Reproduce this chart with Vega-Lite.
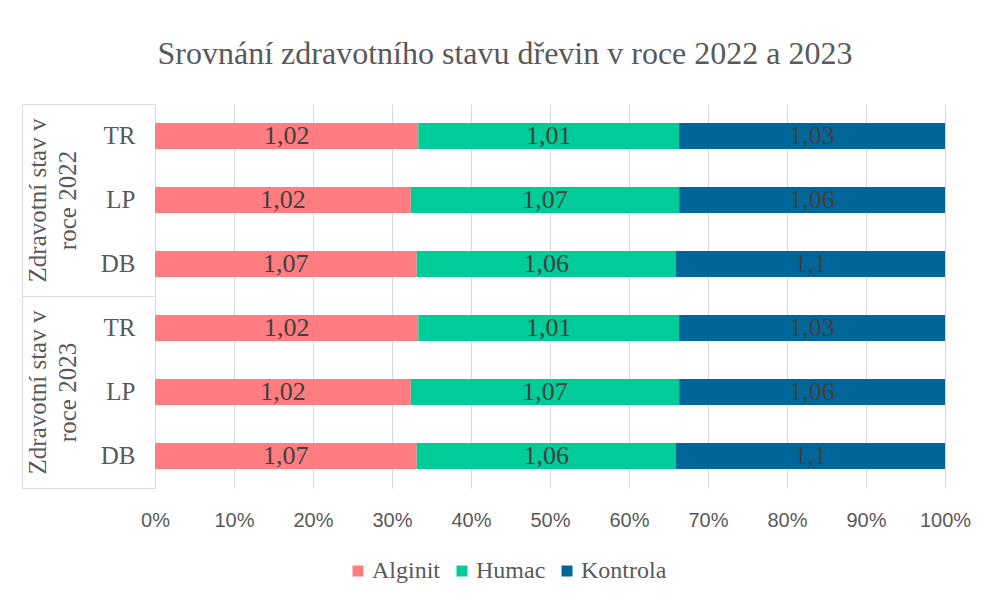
{
  "$schema": "https://vega.github.io/schema/vega-lite/v6.json",
  "width": 790,
  "height": 384,
  "autosize": {"type": "none"},
  "padding": {"left": 155, "top": 104, "right": 42, "bottom": 113},
  "background": "white",
  "config": {
    "locale": {"number": {"decimal": ",", "thousands": " ", "grouping": [3], "currency": ["", " Kč"]}},
    "view": {"stroke": null},
    "font": "Liberation Serif",
    "legend": {"labelFont": "Liberation Serif"}
  },
  "title": {
    "text": "Srovnání zdravotního stavu dřevin v roce 2022 a 2023",
    "font": "Liberation Serif",
    "fontSize": 32,
    "fontWeight": "normal",
    "color": "#595959",
    "anchor": "middle",
    "frame": "group",
    "dx": -45,
    "offset": 33
  },
  "data": {
    "values": [
      {"year": "2022", "plant": "TR", "series": "Alginit", "value": 1.02},
      {"year": "2022", "plant": "TR", "series": "Humac", "value": 1.01},
      {"year": "2022", "plant": "TR", "series": "Kontrola", "value": 1.03},
      {"year": "2022", "plant": "LP", "series": "Alginit", "value": 1.02},
      {"year": "2022", "plant": "LP", "series": "Humac", "value": 1.07},
      {"year": "2022", "plant": "LP", "series": "Kontrola", "value": 1.06},
      {"year": "2022", "plant": "DB", "series": "Alginit", "value": 1.07},
      {"year": "2022", "plant": "DB", "series": "Humac", "value": 1.06},
      {"year": "2022", "plant": "DB", "series": "Kontrola", "value": 1.1},
      {"year": "2023", "plant": "TR", "series": "Alginit", "value": 1.02},
      {"year": "2023", "plant": "TR", "series": "Humac", "value": 1.01},
      {"year": "2023", "plant": "TR", "series": "Kontrola", "value": 1.03},
      {"year": "2023", "plant": "LP", "series": "Alginit", "value": 1.02},
      {"year": "2023", "plant": "LP", "series": "Humac", "value": 1.07},
      {"year": "2023", "plant": "LP", "series": "Kontrola", "value": 1.06},
      {"year": "2023", "plant": "DB", "series": "Alginit", "value": 1.07},
      {"year": "2023", "plant": "DB", "series": "Humac", "value": 1.06},
      {"year": "2023", "plant": "DB", "series": "Kontrola", "value": 1.1}
    ]
  },
  "transform": [
    {"calculate": "datum.year + '|' + datum.plant", "as": "key"},
    {"stack": "value", "groupby": ["key"], "sort": [{"field": "series"}], "offset": "normalize", "as": ["v0", "v1"]},
    {"calculate": "(datum.v0 + datum.v1) / 2", "as": "mid"}
  ],
  "layer": [
    {
      "mark": {"type": "bar", "size": 26},
      "encoding": {
        "y": {
          "field": "key", "type": "nominal",
          "sort": ["2022|TR", "2022|LP", "2022|DB", "2023|TR", "2023|LP", "2023|DB"],
          "scale": {"paddingInner": 0, "paddingOuter": 0},
          "axis": {
            "orient": "left", "title": null, "domain": false, "ticks": false,
            "labelExpr": "split(datum.label, '|')[1]",
            "labelFont": "Liberation Serif", "labelFontSize": 25, "labelColor": "#595959",
            "labelPadding": 20
          }
        },
        "x": {
          "field": "v0", "type": "quantitative",
          "scale": {"domain": [0, 1]},
          "axis": {
            "title": null, "format": "%", "values": [0, 0.1, 0.2, 0.3, 0.4, 0.5, 0.6, 0.7, 0.8, 0.9, 1],
            "grid": true, "gridColor": "#d9d9d9", "domain": false, "ticks": false,
            "labelFlush": false,
            "labelFont": "Liberation Sans", "labelFontSize": 20,
            "labelColor": "#595959", "labelPadding": 22
          }
        },
        "x2": {"field": "v1"},
        "color": {
          "field": "series", "type": "nominal",
          "scale": {"domain": ["Alginit", "Humac", "Kontrola"], "range": ["#FF7C80", "#00CC99", "#006699"]},
          "legend": {
            "title": null, "orient": "none", "direction": "horizontal",
            "legendX": 191, "legendY": 455,
            "symbolType": "square", "symbolSize": 121, "symbolStrokeWidth": 0,
            "labelFont": "Liberation Serif", "labelFontSize": 24, "labelColor": "#595959",
            "columnPadding": 9, "labelOffset": 2
          }
        }
      }
    },
    {
      "mark": {"type": "text", "font": "Liberation Serif", "fontSize": 26, "color": "#404040"},
      "encoding": {
        "y": {
          "field": "key", "type": "nominal",
          "sort": ["2022|TR", "2022|LP", "2022|DB", "2023|TR", "2023|LP", "2023|DB"],
          "scale": {"paddingInner": 0, "paddingOuter": 0},
          "axis": null
        },
        "x": {"field": "mid", "type": "quantitative"},
        "text": {"field": "value", "type": "quantitative", "format": ".2~f"}
      }
    },
    {
      "mark": {"type": "point", "opacity": 0},
      "encoding": {
        "y": {
          "field": "year", "type": "nominal",
          "scale": {"paddingInner": 0, "paddingOuter": 0},
          "axis": {
            "orient": "left", "title": null,
            "domain": true, "domainColor": "#d9d9d9",
            "ticks": true, "tickBand": "extent", "tickSize": 133, "tickColor": "#d9d9d9",
            "labelAngle": 270, "labelAlign": "center", "labelBaseline": "bottom",
            "labelPadding": -28,
            "labelFont": "Liberation Serif", "labelFontSize": 25, "labelColor": "#595959",
            "labelLineHeight": 30,
            "labelExpr": "datum.label ? ['Zdravotní stav v', 'roce ' + datum.label] : ''"
          }
        }
      }
    },
    {
      "mark": {"type": "point", "opacity": 0},
      "encoding": {
        "y": {
          "field": "year", "type": "nominal",
          "scale": {"paddingInner": 0, "paddingOuter": 0},
          "axis": {
            "orient": "left", "title": null, "offset": 133,
            "domain": true, "domainColor": "#d9d9d9",
            "ticks": false, "labels": false
          }
        }
      }
    }
  ],
  "resolve": {"scale": {"y": "independent"}, "axis": {"y": "independent"}}
}
